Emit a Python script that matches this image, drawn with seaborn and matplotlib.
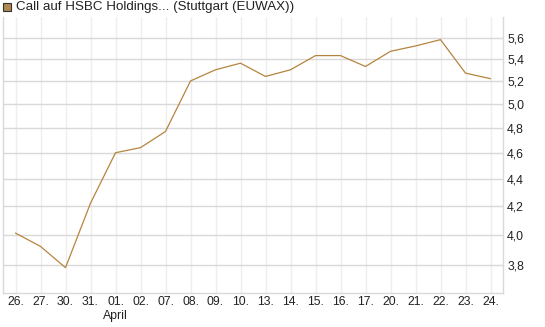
import pandas as pd
import seaborn as sns
import matplotlib.pyplot as plt
from matplotlib.patches import Rectangle
from matplotlib.ticker import FixedLocator, FuncFormatter, NullLocator
import matplotlib.transforms as mtransforms

# Chart data
days = ["26.", "27.", "30.", "31.", "01.", "02.", "07.", "08.", "09.", "10.",
        "13.", "14.", "15.", "16.", "17.", "20.", "21.", "22.", "23.", "24."]
prices = [4.01, 3.92, 3.78, 4.22, 4.60, 4.64, 4.77, 5.20, 5.30, 5.36,
          5.24, 5.30, 5.43, 5.43, 5.33, 5.47, 5.52, 5.58, 5.27, 5.22]
y_ticks = [3.8, 4.0, 4.2, 4.4, 4.6, 4.8, 5.0, 5.2, 5.4, 5.6]
month_label = "April"
month_pos = 4
series_name = "Call auf HSBC Holdings... (Stuttgart (EUWAX))"

df = pd.DataFrame({"pos": range(len(days)), "price": prices})

sns.set_style("white")
plt.rcParams['font.family'] = ['Liberation Sans', 'DejaVu Sans']

line_col = "#b5843f"

fig = plt.figure(figsize=(5.45, 3.27), dpi=100)
ax = fig.add_axes([3 / 545, 1 - 293 / 327, 500 / 545, 276 / 327])

sns.lineplot(data=df, x="pos", y="price", ax=ax, color=line_col, linewidth=0.9)

ax.set_yscale("log")
ax.set_ylim(3.62, 5.80)
ax.set_xlim(-0.5, len(days) - 0.5)

ax.yaxis.set_major_locator(FixedLocator(y_ticks))
ax.yaxis.set_minor_locator(NullLocator())
ax.yaxis.set_major_formatter(FuncFormatter(lambda v, p: f"{v:.1f}".replace(".", ",")))
ax.yaxis.tick_right()
ax.set_xticks(range(len(days)))
ax.set_xticklabels(days)

ax.tick_params(axis="both", length=0, labelsize=8.8, colors="#222222")
ax.tick_params(axis="y", pad=3)
ax.tick_params(axis="x", pad=2)
ax.set_xlabel("")
ax.set_ylabel("")

ax.grid(False)
ax.yaxis.grid(True, color="#d9d9d9", linewidth=1)
ax.xaxis.grid(True, color="#eeeeee", linewidth=1)
ax.set_axisbelow(True)

for side in ["left", "right", "bottom"]:
    ax.spines[side].set_visible(True)
    ax.spines[side].set_color("#d9d9d9")
    ax.spines[side].set_linewidth(1)
ax.spines["top"].set_visible(False)

trans = mtransforms.blended_transform_factory(ax.transData, fig.transFigure)
ax.text(month_pos, 1 - 316 / 327, month_label, transform=trans, ha="center",
        va="center", fontsize=8.8, color="#222222")

# legend box at top left
fig.patches.append(Rectangle((3 / 545, 1 - 11 / 327), 8 / 545, 8 / 327,
                             transform=fig.transFigure, facecolor="#b08850",
                             edgecolor="#333333", linewidth=0.8))
fig.text(16 / 545, 1 - 7 / 327, series_name, ha="left", va="center",
         fontsize=9.6, color="#222222")

fig.savefig("out.png", dpi=100)
